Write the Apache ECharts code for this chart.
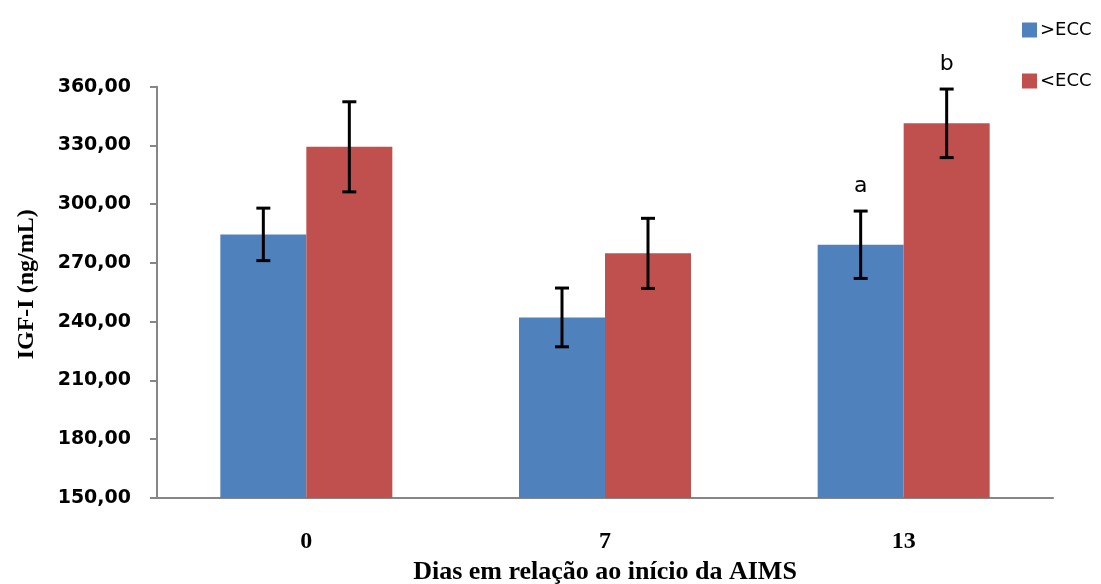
<!DOCTYPE html>
<html>
<head>
<meta charset="utf-8">
<script src="https://cdn.jsdelivr.net/npm/echarts@6/dist/echarts.min.js"></script>
<style>
  html, body { margin: 0; padding: 0; background: #fff; }
  #chart { width: 1101px; height: 584px; }
</style>
</head>
<body>
<div id="chart"></div>
<script>
// Days relative to the start of AIMS
const categories = ['0', '7', '13'];
// Mean IGF-I (ng/mL) per group
const aboveECC = [284.6, 242.2, 279.3];
const belowECC = [329.3, 274.9, 341.3];
// Error-bar half widths
const aboveErr = [13.4, 15.0, 17.2];
const belowErr = [23.0, 17.9, 17.5];
// Significance letters above the error bars
const aboveLetters = ['', '', 'a'];
const belowLetters = ['', '', 'b'];
// Y axis range and step
const yMin = 150, yMax = 360, yStep = 30;

const BLUE = '#4F81BD', RED = '#C0504D';
const BAR_W = 86;

function errData(means, errs, letters) {
  return means.map((m, i) => [i, m - errs[i], m + errs[i], letters[i]]);
}

function errRenderer(offset) {
  return function (params, api) {
    const i = api.value(0);
    const lo = api.coord([i, api.value(1)]);
    const hi = api.coord([i, api.value(2)]);
    const x = lo[0] + offset;
    const cap = 7;
    const style = { stroke: '#000', lineWidth: 3 };
    const children = [
      { type: 'line', shape: { x1: x, y1: hi[1], x2: x, y2: lo[1] }, style },
      { type: 'line', shape: { x1: x - cap, y1: hi[1], x2: x + cap, y2: hi[1] }, style },
      { type: 'line', shape: { x1: x - cap, y1: lo[1], x2: x + cap, y2: lo[1] }, style }
    ];
    const letter = api.value(3);
    if (letter) {
      children.push({
        type: 'text',
        style: {
          text: letter, x: x, y: hi[1] - 14,
          align: 'center', verticalAlign: 'bottom',
          font: '22px "DejaVu Sans"', fill: '#000'
        }
      });
    }
    return { type: 'group', children };
  };
}

const chart = echarts.init(document.getElementById('chart'));
chart.setOption({
  backgroundColor: '#fff',
  animation: false,
  grid: { left: 157, right: 48, top: 86.7, bottom: 86, containLabel: false, outerBoundsMode: 'none' },
  legend: {
    orient: 'vertical',
    left: 1017, top: 16,
    itemWidth: 15, itemHeight: 15, itemGap: 33,
    icon: 'rect',
    textStyle: { fontFamily: 'DejaVu Sans', fontSize: 18, lineHeight: 15, color: '#000', padding: [0, 0, 0, -2] },
    data: ['>ECC', '<ECC']
  },
  xAxis: {
    type: 'category',
    data: categories,
    name: 'Dias em relação ao início da AIMS',
    nameLocation: 'middle',
    nameGap: 56,
    nameTextStyle: { fontFamily: 'Liberation Serif', fontWeight: 'bold', fontSize: 26, color: '#000' },
    axisLine: { lineStyle: { color: '#868686', width: 2 } },
    axisTick: { length: 9, lineStyle: { color: '#868686', width: 2 } },
    axisLabel: { margin: 32, fontFamily: 'Liberation Serif', fontWeight: 'bold', fontSize: 24, color: '#000' }
  },
  yAxis: {
    type: 'value',
    min: yMin, max: yMax, interval: yStep,
    name: 'IGF-I (ng/mL)',
    nameLocation: 'middle',
    nameGap: 118,
    nameTextStyle: { fontFamily: 'Liberation Serif', fontWeight: 'bold', fontSize: 24, color: '#000', padding: [0, 0, 0, 16] },
    splitLine: { show: false },
    axisLine: { show: true, lineStyle: { color: '#868686', width: 2 } },
    axisTick: { show: true, length: 7, lineStyle: { color: '#868686', width: 2 } },
    axisLabel: {
      margin: 26,
      fontFamily: 'DejaVu Sans', fontWeight: 'bold', fontSize: 19, color: '#000',
      formatter: v => v.toFixed(2).replace('.', ',')
    }
  },
  series: [
    { name: '>ECC', type: 'bar', data: aboveECC, barWidth: BAR_W, barGap: '0%', itemStyle: { color: BLUE } },
    { name: '<ECC', type: 'bar', data: belowECC, barWidth: BAR_W, barGap: '0%', itemStyle: { color: RED } },
    {
      type: 'custom', renderItem: errRenderer(-BAR_W / 2),
      data: errData(aboveECC, aboveErr, aboveLetters),
      encode: { x: 0, y: [1, 2] }, z: 10, silent: true
    },
    {
      type: 'custom', renderItem: errRenderer(BAR_W / 2),
      data: errData(belowECC, belowErr, belowLetters),
      encode: { x: 0, y: [1, 2] }, z: 10, silent: true
    }
  ]
});
</script>
</body>
</html>
